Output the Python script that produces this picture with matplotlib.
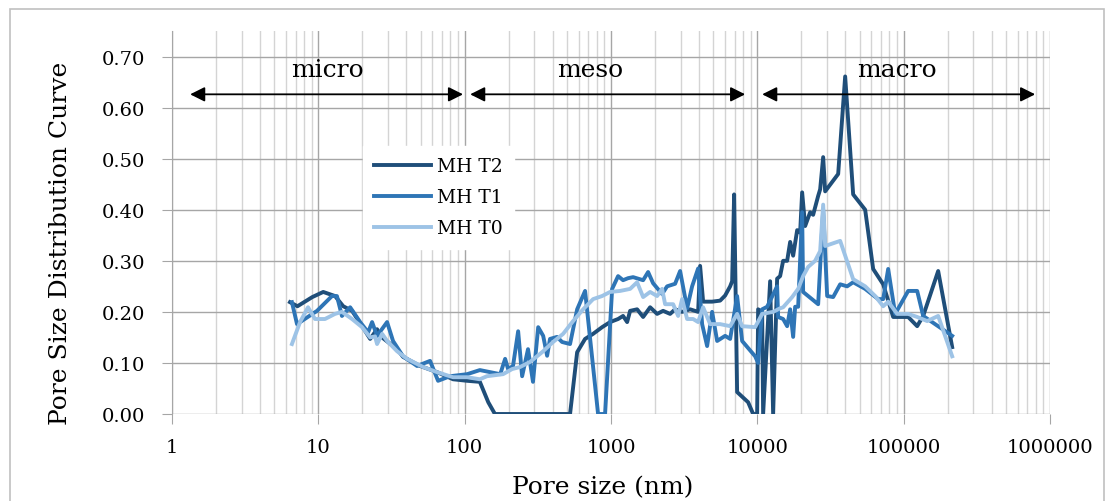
import numpy as np
import matplotlib.pyplot as plt
from matplotlib.patches import Rectangle
from matplotlib.ticker import FixedLocator, NullFormatter

# ---- data (pore size in nm, PSD value) ----
t2_size = [6.4, 7.2, 9.1, 10.8, 13.0, 14.8, 17.0, 19.9, 22.6, 25.2, 26.4, 34.5, 37.9,
           49.6, 64.8, 83.3, 104, 127, 145, 161, 525, 587, 665, 755, 869, 986, 1118,
           1209, 1289, 1351, 1508, 1658, 1851, 2066, 2270, 2535, 2742, 3062, 3473,
           3939, 4064, 4261, 4910, 5569, 6025, 6520, 6727, 6941, 7276, 8652, 9362,
           9969, 10127, 10785, 10955, 12231, 12823, 13654, 14313, 15009, 15989,
           16761, 17570, 18714, 19612, 20240, 21216, 22956, 24066, 26040, 26872,
           28178, 29075, 35680, 39829, 45171, 54561, 61887, 72430, 84772, 107353,
           123700, 135941, 172115, 214540]
t2_psd = [0.219, 0.211, 0.229, 0.239, 0.231, 0.211, 0.202, 0.172, 0.147, 0.166, 0.153,
          0.127, 0.112, 0.094, 0.082, 0.068, 0.065, 0.063, 0.023, 0.0, 0.0, 0.121,
          0.147, 0.157, 0.170, 0.180, 0.186, 0.192, 0.180, 0.202, 0.205, 0.190, 0.209,
          0.196, 0.202, 0.196, 0.205, 0.200, 0.205, 0.200, 0.290, 0.220, 0.220, 0.222,
          0.232, 0.250, 0.260, 0.430, 0.043, 0.023, 0.0, 0.0, 0.205, 0.200, 0.0, 0.260,
          0.0, 0.265, 0.270, 0.300, 0.300, 0.337, 0.310, 0.360, 0.355, 0.434, 0.368,
          0.395, 0.390, 0.427, 0.440, 0.503, 0.436, 0.470, 0.661, 0.430, 0.400, 0.284,
          0.254, 0.190, 0.190, 0.172, 0.192, 0.280, 0.131]

t1_size = [6.6, 7.15, 9.8, 12.4, 13.4, 14.5, 16.5, 19.3, 21.9, 23.3, 25.2, 29.5, 32.4,
           37.9, 47.3, 58.0, 65.8, 79.5, 104, 127, 149, 175, 189, 198, 214, 232, 247,
           271, 293, 318, 344, 366, 383, 428, 463, 525, 587, 665, 816, 911, 1018, 1118,
           1209, 1309, 1416, 1658, 1793, 1940, 2235, 2418, 2742, 2967, 3313, 3584,
           3939, 4195, 4538, 4910, 5312, 6025, 6520, 7276, 7872, 9660, 10127, 10785,
           11667, 13654, 13873, 15009, 15989, 16761, 17570, 18132, 19010, 20240, 20559,
           22243, 26040, 28178, 30005, 32973, 36819, 41102, 45171, 54561, 66949, 72430,
           78358, 87488, 107353, 123700, 135941, 214540]
t1_psd = [0.219, 0.176, 0.202, 0.231, 0.231, 0.192, 0.209, 0.180, 0.160, 0.180, 0.153,
          0.180, 0.143, 0.113, 0.094, 0.104, 0.065, 0.074, 0.078, 0.086, 0.082, 0.078,
          0.108, 0.088, 0.094, 0.162, 0.074, 0.127, 0.063, 0.170, 0.153, 0.114, 0.147,
          0.151, 0.141, 0.137, 0.205, 0.241, 0.0, 0.0, 0.245, 0.270, 0.262, 0.266, 0.268,
          0.262, 0.278, 0.256, 0.235, 0.250, 0.255, 0.280, 0.207, 0.250, 0.285, 0.176,
          0.133, 0.200, 0.143, 0.153, 0.147, 0.231, 0.143, 0.113, 0.100, 0.205, 0.210,
          0.250, 0.190, 0.186, 0.172, 0.205, 0.151, 0.210, 0.210, 0.395, 0.239, 0.231,
          0.215, 0.400, 0.231, 0.229, 0.254, 0.250, 0.258, 0.245, 0.225, 0.225, 0.284,
          0.196, 0.241, 0.241, 0.192, 0.153]

t0_size = [6.6, 7.5, 8.5, 9.49, 11.1, 13.0, 14.5, 17.0, 19.9, 22.6, 24.4, 25.2, 27.3,
           29.5, 34.5, 40.4, 52.0, 64.8, 83.3, 104, 127, 142, 183, 211, 239, 280, 338,
           402, 471, 551, 645, 755, 869, 986, 1154, 1351, 1508, 1658, 1851, 2066, 2235,
           2343, 2658, 2876, 3062, 3313, 3641, 3939, 4261, 4758, 5569, 6520, 7276, 7872,
           9660, 10785, 12823, 14313, 15009, 17297, 19010, 20559, 22243, 24838, 26872,
           28178, 29075, 36819, 45171, 54561, 63869, 72430, 78358, 90287, 107353,
           123700, 144740, 172115, 214540]
t0_psd = [0.137, 0.180, 0.209, 0.186, 0.186, 0.196, 0.200, 0.186, 0.170, 0.150, 0.152,
          0.137, 0.157, 0.143, 0.123, 0.108, 0.092, 0.082, 0.072, 0.072, 0.068, 0.074,
          0.078, 0.088, 0.092, 0.102, 0.121, 0.141, 0.157, 0.182, 0.205, 0.225, 0.231,
          0.239, 0.241, 0.245, 0.258, 0.229, 0.239, 0.231, 0.245, 0.215, 0.215, 0.192,
          0.225, 0.186, 0.186, 0.180, 0.209, 0.176, 0.176, 0.172, 0.196, 0.172, 0.170,
          0.196, 0.200, 0.207, 0.209, 0.229, 0.245, 0.270, 0.288, 0.300, 0.319, 0.410,
          0.329, 0.339, 0.264, 0.250, 0.231, 0.211, 0.220, 0.196, 0.196, 0.190, 0.182,
          0.192, 0.113]

series_names = ["MH T2", "MH T1", "MH T0"]
series_colors = ["#1f4e79", "#2e75b6", "#9dc3e6"]

x_ticks = [1, 10, 100, 1000, 10000, 100000, 1000000]
x_ticklabels = ["1", "10", "100", "1000", "10000", "100000", "1000000"]
y_ticks = [0.0, 0.1, 0.2, 0.3, 0.4, 0.5, 0.6, 0.7]

# pore classes: (label, from, to, label x)
regions = [("micro", 1.33, 97.5, 11.5),
           ("meso", 109, 8260, 720),
           ("macro", 10790, 792000, 90200)]

plt.rcParams['font.family'] = ['DejaVu Serif']

fig = plt.figure(figsize=(11.12, 5.02), dpi=100)
ax = fig.add_axes([172 / 1112, 1 - 415 / 502, 878 / 1112, 383 / 502])

# outer chart frame
fig.patches.append(Rectangle((10 / 1112, -0.1), 1094 / 1112, 1.1 - 10 / 502,
                             transform=fig.transFigure, fill=False,
                             edgecolor="#c0c0c0", linewidth=1.2))

ax.set_xscale("log")
ax.set_xlim(1, 1000000)
ax.set_ylim(0, 0.75)

# grid
ax.xaxis.set_major_locator(FixedLocator(x_ticks))
ax.set_xticklabels(x_ticklabels)
minor = [m * 10 ** d for d in range(0, 6) for m in range(2, 10)]
ax.xaxis.set_minor_locator(FixedLocator(minor))
ax.xaxis.set_minor_formatter(NullFormatter())
for x in minor:
    ax.axvline(x, color="#d4d4d4", lw=1.0, zorder=0)
for x in x_ticks:
    ax.axvline(x, color="#a6a6a6", lw=1.0, zorder=0)
ax.set_yticks(y_ticks)
ax.set_yticklabels(["%.2f" % v for v in y_ticks])
for y in y_ticks:
    ax.axhline(y, color="#a6a6a6", lw=1.0, zorder=0)

for s in ["top", "right", "bottom"]:
    ax.spines[s].set_visible(False)
ax.spines["left"].set_color("#a6a6a6")
ax.tick_params(axis="both", which="major", direction="out", length=7,
               color="#a6a6a6", labelsize=14)
ax.tick_params(axis="y", pad=12)
ax.tick_params(axis="x", which="minor", length=0)
ax.tick_params(axis="x", pad=10)

# series
data = [(t2_size, t2_psd), (t1_size, t1_psd), (t0_size, t0_psd)]
for (xs, ys), name, c in zip(data, series_names, series_colors):
    ax.plot(xs, ys, color=c, lw=2.8, label=name, solid_joinstyle="round", zorder=3)

# pore class arrows
for label, x0, x1, xl in regions:
    ax.annotate("", xy=(x1, 0.626), xytext=(x0, 0.626),
                arrowprops=dict(arrowstyle="<|-|>", color="black", lw=1.3,
                                mutation_scale=22, shrinkA=0, shrinkB=0), zorder=4)
    ax.text(xl, 0.652, label, ha="center", va="bottom", fontsize=18)

ax.set_xlabel("Pore size (nm)", fontsize=18)
ax.xaxis.set_label_coords((603 - 172) / 878, (415 - 476) / 383)
ax.set_ylabel("Pore Size Distribution Curve", fontsize=18)
ax.yaxis.set_label_coords((72 - 172) / 878, (415 - 243) / 383)

leg = ax.legend(loc="upper left", bbox_to_anchor=((363 - 172) / 878, (415 - 147) / 383),
                borderaxespad=0, frameon=True, fancybox=False, fontsize=13.5,
                handlelength=3.0, handletextpad=0.35, labelspacing=0.7,
                borderpad=0.6)
leg.get_frame().set_facecolor("white")
leg.get_frame().set_edgecolor("white")
leg.get_frame().set_alpha(1)
leg.set_zorder(5)

fig.savefig("out.png", dpi=100)
